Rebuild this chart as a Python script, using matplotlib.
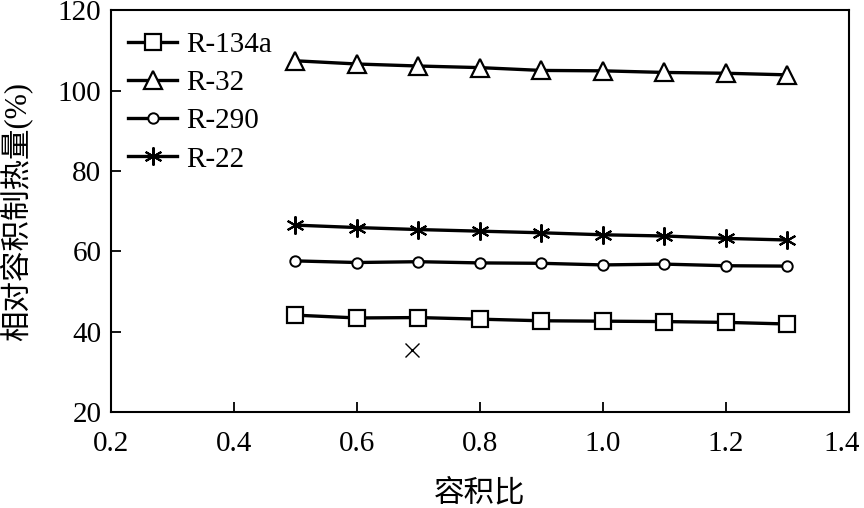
import matplotlib
matplotlib.use("Agg")
import matplotlib.pyplot as plt
import matplotlib.transforms as mtransforms

plt.rcParams['font.family'] = ['Liberation Serif', 'Noto Sans CJK SC']

x = [0.5, 0.6, 0.7, 0.8, 0.9, 1.0, 1.1, 1.2, 1.3]
r134a = [44.1, 43.4, 43.5, 43.1, 42.7, 42.6, 42.5, 42.3, 41.9]
r32 = [107.4, 106.6, 106.1, 105.7, 105.0, 104.9, 104.5, 104.3, 103.9]
r290 = [57.6, 57.2, 57.4, 57.1, 57.0, 56.6, 56.8, 56.4, 56.3]
r22 = [66.5, 65.9, 65.4, 65.0, 64.6, 64.1, 63.8, 63.2, 62.8]
stray_x = [0.69]
stray_y = [35.5]

xticks = [0.2, 0.4, 0.6, 0.8, 1.0, 1.2, 1.4]
xticklabels = ['0.2', '0.4', '0.6', '0.8', '1.0', '1.2', '1.4']
yticks = [20, 40, 60, 80, 100, 120]

fig = plt.figure(figsize=(8.64, 5.08), dpi=100)
ax = fig.add_axes([0.1285, 0.189, 0.854, 0.791])

lw = 2.4
ax.plot(x, r134a, color='black', lw=lw, marker='s', ms=12, mfc='white', mec='black', mew=1.6, label='R-134a')
ax.plot(x, r32, color='black', lw=lw, marker='^', ms=13, mfc='white', mec='black', mew=1.6, label='R-32')
ax.plot(x, r290, color='black', lw=lw, marker='o', ms=7.5, mfc='white', mec='black', mew=1.4, label='R-290')
ax.plot(x, r22, color='black', lw=lw, marker=(6, 2, 0), ms=13, mec='black', mew=1.5, label='R-22')
ax.plot(stray_x, stray_y, ls='none', marker='x', ms=10, mec='black', mew=1.0)

ax.set_xlim(0.2, 1.4)
ax.set_ylim(20, 120)
ax.set_xticks(xticks)
ax.set_xticklabels(xticklabels)
ax.set_yticks(yticks)
ax.tick_params(direction='in', length=7, width=1.3, labelsize=21)
ax.tick_params(axis='x', pad=14)
ax.tick_params(axis='y', pad=7)
for s in ax.spines.values():
    s.set_linewidth(1.5)

# nudge the last x tick label slightly left so it stays inside the figure
last = ax.get_xticklabels()[-1]
last.set_transform(last.get_transform() + mtransforms.ScaledTranslation(-5 / 72, 0, fig.dpi_scale_trans))

ax.set_xlabel('容积比', fontsize=22, labelpad=16)
ax.set_ylabel('相对容积制热量(%)', fontsize=22, labelpad=18)

leg = ax.legend(loc='upper left', frameon=False, fontsize=21, handlelength=1.7,
                handletextpad=0.3, labelspacing=0.4, borderaxespad=0.0,
                bbox_to_anchor=(0.007, 0.975))

fig.savefig('out.png', dpi=100)
